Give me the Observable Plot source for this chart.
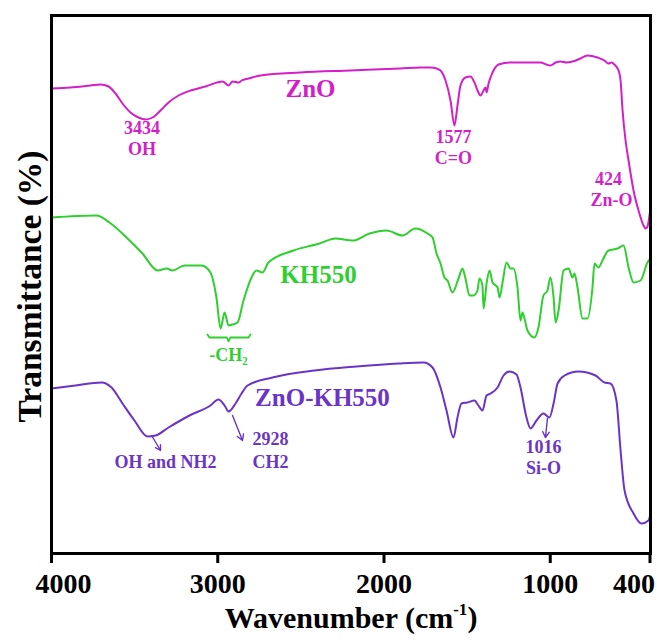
<!DOCTYPE html>
<html>
<head>
<meta charset="utf-8">
<script src="https://cdn.jsdelivr.net/npm/d3@7"></script>
<script src="https://cdn.jsdelivr.net/npm/@observablehq/plot@0.6"></script>
<style>
  body { margin: 0; background: #ffffff; }
</style>
</head>
<body>
<div id="chart"></div>
<script>
// ---- Data (wavenumber in cm^-1, transmittance in arbitrary stacked units) ----
const znoWave = [4000,3886,3765,3705,3657,3615,3573,3525,3477,3435,3392,3344,3296,3236,3164,3074,2971,2935,2911,2875,2857,2815,2743,2502,2201,1901,1780,1720,1684,1660,1630,1600,1576,1558,1540,1510,1480,1456,1432,1420,1401,1389,1383,1371,1347,1311,1239,1119,1059,1023,999,968,938,902,866,818,776,716,674,650,632,614,589,577,565,547,529,499,469,439,427,415,403,397];
const znoT    = [93.0,93.2,93.6,93.8,93.4,92.0,90.0,88.2,87.2,86.8,87.2,88.6,90.2,91.6,92.6,93.4,94.4,93.6,94.4,94.2,94.6,95.0,95.6,96.2,96.6,97.0,97.2,97.2,97.0,96.6,94.6,90.6,85.6,89.6,93.6,95.2,95.4,94.2,92.2,91.6,92.6,93.2,92.2,94.0,96.2,97.8,98.2,98.2,98.2,97.8,97.6,98.2,98.4,98.2,98.4,99.0,99.6,99.2,98.6,98.0,98.2,97.8,96.6,94.6,88.6,82.6,78.6,72.6,68.6,65.6,65.0,65.4,67.6,69.0];

const khWave = [4000,3729,3651,3549,3453,3362,3308,3272,3200,3098,3044,3008,2983,2959,2935,2911,2881,2845,2797,2767,2731,2695,2544,2388,2292,2189,2087,1985,1889,1811,1738,1708,1684,1660,1636,1618,1588,1552,1528,1510,1486,1462,1438,1426,1408,1401,1383,1365,1347,1317,1305,1287,1263,1239,1221,1197,1179,1167,1155,1137,1095,1071,1041,1017,999,980,968,950,920,890,866,854,836,806,776,746,734,710,686,650,595,559,529,499,457,415,397];
const khT    = [67.2,67.6,66.2,63.2,60.0,56.6,57.0,56.6,57.6,57.6,56.2,51.2,45.0,48.2,45.6,45.8,46.2,50.6,55.2,56.6,56.2,58.2,60.6,62.0,63.0,62.6,64.0,64.6,63.6,65.0,64.0,63.2,60.0,58.0,55.2,54.6,52.2,55.0,57.0,55.0,51.6,51.6,52.6,55.0,53.6,49.0,54.0,56.6,54.2,53.2,51.2,54.2,58.2,57.0,57.0,53.2,46.6,48.2,47.0,44.6,43.2,45.2,51.6,52.6,55.2,51.2,46.2,48.6,56.6,57.0,55.2,56.0,53.2,47.0,47.0,53.2,58.0,57.2,58.6,60.6,61.0,61.6,57.2,54.2,54.6,58.2,59.0];

const zkWave = [4000,3856,3699,3639,3573,3501,3423,3374,3296,3170,3044,2996,2959,2935,2893,2857,2821,2671,2418,2165,1913,1762,1708,1660,1624,1582,1558,1534,1498,1456,1432,1408,1383,1359,1317,1281,1245,1203,1179,1143,1119,1083,1041,1005,980,956,914,830,728,674,638,602,577,553,499,451,409,397];
const zkT    = [33.0,33.6,34.2,33.2,30.0,26.6,23.4,23.6,25.2,27.6,29.6,30.8,29.6,28.4,30.0,32.0,33.6,35.2,36.6,37.4,38.0,38.2,37.2,33.2,28.6,23.2,27.2,30.0,30.2,30.6,29.6,28.6,31.6,32.0,33.2,35.6,36.4,35.8,33.2,27.2,25.0,26.6,28.0,27.2,30.0,34.0,35.6,36.4,35.6,34.2,34.0,30.6,20.6,12.6,8.0,6.0,6.6,8.0];

const seriesNames  = ["ZnO", "KH550", "ZnO-KH550"];
const seriesColors = ["#d41fc9", "#2fcf2f", "#6a34c8"];
const seriesLabelWave = [2442, 2394, 2370];
const seriesLabelT    = [92.9, 55.7, 31.1];

const peakText   = ["3434", "OH", "1577", "C=O", "424", "Zn-O", "-CH\u2082", "OH and NH2", "2928", "CH2", "1016", "Si-O"];
const peakWave   = [3456, 3456, 1582, 1582, 650, 632, 2935, 3314, 2683, 2683, 1041, 1041];
const peakT      = [85.0, 80.8, 83.3, 79.1, 74.9, 70.6, 39.6, 18.3, 22.8, 18.3, 21.2, 17.0];
const peakSeries = [0, 0, 0, 0, 0, 0, 1, 2, 2, 2, 2, 2];

// arrows (purple annotations)
const arrowWave1 = [3398, 2911, 1017];
const arrowT1    = [23.6, 27.6, 27.0];
const arrowWave2 = [3344, 2851, 1029];
const arrowT2    = [20.6, 22.6, 23.2];

// brace under the KH550 -CH2 doublet
const braceWave = [3062, 3050, 2945, 2935, 2925, 2815, 2803];
const braceT    = [43.8, 43.2, 43.2, 42.4, 43.2, 43.2, 43.8];

const xTickValues = [4000, 3000, 2000, 1000, 400];
const xTickLabels = ["4000", "3000", "2000", "1000", "400"];
const xTitleMain = "Wavenumber (cm";
const xTitleSup = "-1";
const xTitleEnd = ")";
const yTitle = "Transmittance (%)";

// ---- Build tables ----
const spectra = [
  znoWave.map((w, i) => ({w, t: znoT[i]})),
  khWave.map((w, i) => ({w, t: khT[i]})),
  zkWave.map((w, i) => ({w, t: zkT[i]}))
];
const seriesLabels = seriesNames.map((name, i) => ({name, w: seriesLabelWave[i], t: seriesLabelT[i], color: seriesColors[i]}));
const peaks = peakText.map((text, i) => ({text, w: peakWave[i], t: peakT[i], color: seriesColors[peakSeries[i]]}));
const arrows = arrowWave1.map((w1, i) => ({w1, t1: arrowT1[i], w2: arrowWave2[i], t2: arrowT2[i]}));
const brace = braceWave.map((w, i) => ({w, t: braceT[i]}));
const fmt = d => xTickLabels[xTickValues.indexOf(d)];

const font = "'Liberation Serif', 'Times New Roman', Times, serif";

const chart = Plot.plot({
  width: 657,
  height: 643,
  marginLeft: 51,
  marginRight: 7,
  marginTop: 15,
  marginBottom: 90,
  style: {fontFamily: font, background: "#ffffff", color: "#000"},
  x: {domain: [4000, 397], label: null},
  y: {domain: [0, 107.6], axis: null},
  color: {type: "identity"},
  marks: [
    ...spectra.map((data, i) => Plot.line(data, {x: "w", y: "t", stroke: seriesColors[i], strokeWidth: 2, curve: "monotone-x"})),
    Plot.line(brace, {x: "w", y: "t", stroke: seriesColors[1], strokeWidth: 1.8}),
    Plot.arrow(arrows, {x1: "w1", y1: "t1", x2: "w2", y2: "t2", stroke: seriesColors[2], strokeWidth: 1.4, headLength: 7}),
    Plot.text(seriesLabels, {x: "w", y: "t", text: "name", fill: "color", fontSize: 25, fontWeight: "bold"}),
    Plot.text(peaks, {x: "w", y: "t", text: "text", fill: "color", fontSize: 18, fontWeight: "bold"}),
    Plot.frame({stroke: "#000", strokeWidth: 3}),
    Plot.axisX({ticks: xTickValues, tickSize: 10, strokeWidth: 3, tickFormat: () => "", label: null}),
    Plot.axisX({ticks: [3000, 2000, 1000], tickSize: 0, tickPadding: 20, tickFormat: fmt, fontSize: 28, fontWeight: "bold", fill: "#000", label: null}),
    Plot.axisX({ticks: [4000], tickSize: 0, tickPadding: 20, dx: 12, tickFormat: fmt, fontSize: 28, fontWeight: "bold", fill: "#000", label: null}),
    Plot.axisX({ticks: [400], tickSize: 0, tickPadding: 20, dx: -16, tickFormat: fmt, fontSize: 28, fontWeight: "bold", fill: "#000", label: null}),
    Plot.text([xTitleMain], {text: d => d, frameAnchor: "bottom", dy: 74, fontSize: 30, fontWeight: "bold", fill: "#000", className: "xtitle"}),
    Plot.text([yTitle], {text: d => d, frameAnchor: "left", textAnchor: "middle", rotate: -90, dx: -21, dy: 2, fontSize: 33.5, fontWeight: "bold", fill: "#000"})
  ]
});

// add the superscript "-1" and closing parenthesis to the x title
const xt = d3.select(chart).select(".xtitle text");
if (!xt.empty()) {
  xt.append("tspan").attr("font-size", "17").attr("dy", "-0.75em").text(xTitleSup);
  xt.append("tspan").attr("dy", "0.42em").text(xTitleEnd);
}
document.getElementById("chart").append(chart);
</script>
</body>
</html>
